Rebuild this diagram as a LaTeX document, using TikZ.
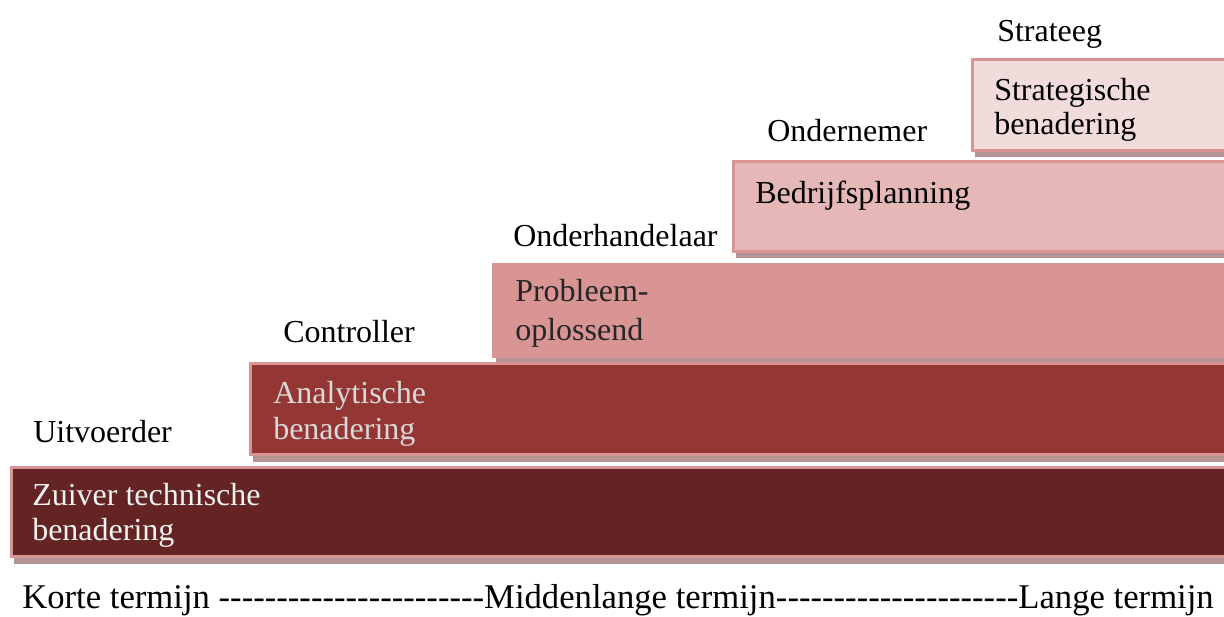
\documentclass[tikz,border=0pt]{standalone}
\usepackage{fontspec}
\setmainfont{Liberation Serif}
\definecolor{rimpink}{HTML}{D99594}
\definecolor{shade}{HTML}{B39494}
\definecolor{stepA}{HTML}{632423}
\definecolor{stepB}{HTML}{943634}
\definecolor{stepC}{HTML}{D99594}
\definecolor{stepD}{HTML}{E5B8B7}
\definecolor{stepE}{HTML}{F2DBDB}
% a run of separate hyphens (no dash ligatures)
\newcommand\hyphenrun[1]{\foreach \k in {1,...,#1}{-{}}}
\tikzset{
  x=0.75pt, y=-0.75pt,
  txt/.style={inner sep=0pt, anchor=base west, font=\fontsize{24}{28}\selectfont},
  axistxt/.style={inner sep=0pt, anchor=base west, font=\fontsize{26}{30}\selectfont},
  shadowbox/.style={fill=shade, draw=none},
  stepbox/.style={line width=2.25pt}
}
\begin{document}
\begin{tikzpicture}
\useasboundingbox (0,0) rectangle (1224,617);
\begin{scope}
\clip (0,0) rectangle (1224,617);
% each step: drop shadow, then the bordered bar running off the right edge
\fill[shadowbox] (14,470) rectangle (1240,564);
\draw[stepbox, draw=rimpink, fill=stepA] (11.5,467.5) rectangle (1240,556.5);
\fill[shadowbox] (253,367) rectangle (1240,462);
\draw[stepbox, draw=rimpink, fill=stepB] (250.5,363.5) rectangle (1240,454.5);
\fill[shadowbox] (496,268) rectangle (1240,362);
\draw[stepbox, draw=stepC, fill=stepC] (493.5,264.5) rectangle (1240,356.5);
\fill[shadowbox] (736,164) rectangle (1240,258);
\draw[stepbox, draw=rimpink, fill=stepD] (733.5,161.5) rectangle (1240,251.5);
\fill[shadowbox] (975,62) rectangle (1240,157);
\draw[stepbox, draw=rimpink, fill=stepE] (972.5,59.5) rectangle (1240,150.5);
\end{scope}
% texts inside the bars
\node[txt, text=white!95!black] (a1) at (32,505) {Zuiver technische};
\node[txt, text=white!95!black] (a2) at (32,540) {benadering};
\node[txt, text=white!85!black] (b1) at (273,403) {Analytische};
\begin{scope}
\clip (250,360) rectangle (700,445);
\node[txt, text=white!85!black] (b2) at (273,439) {benadering};
\end{scope}
\node[txt, text=black!85] (c1) at (515,301) {Probleem-};
\node[txt, text=black!85] (c2) at (515,340) {oplossend};
\node[txt] (d1) at (755,203) {Bedrijfsplanning};
\node[txt] (e1) at (994,100) {Strategische};
\begin{scope}
\clip (972,60) rectangle (1224,140);
\node[txt] (e2) at (994,134) {benadering};
\end{scope}
% role labels above each step
\node[txt] (r1) at (33,442) {Uitvoerder};
\node[txt] (r2) at (283,342) {Controller};
\node[txt] (r3) at (513,246) {Onderhandelaar};
\node[txt] (r4) at (767,142) {Ondernemer};
\node[txt] (r5) at (997,42) {Strateeg};
% time axis
\node[axistxt] (axis) at (22,608) {Korte termijn \hyphenrun{23}Middenlange termijn\hyphenrun{21}Lange termijn};
\end{tikzpicture}
\end{document}
